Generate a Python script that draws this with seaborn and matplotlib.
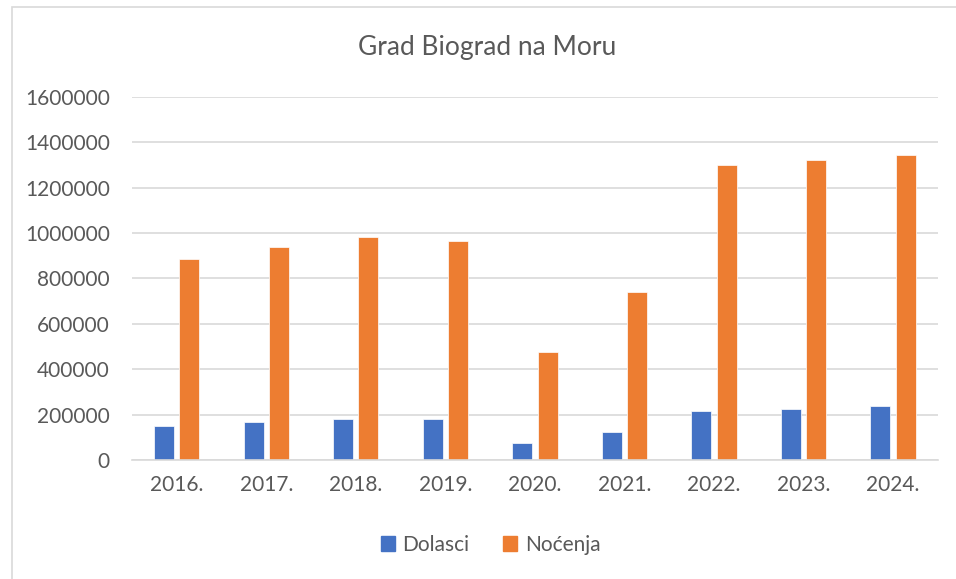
import pandas as pd
import seaborn as sns
import matplotlib.pyplot as plt
from matplotlib.patches import Rectangle

# Podaci sa grafa
godine = ['2016.', '2017.', '2018.', '2019.', '2020.', '2021.', '2022.', '2023.', '2024.']
dolasci = [152000, 166000, 182000, 182000, 73000, 122000, 214000, 227000, 240000]
nocenja = [884000, 941000, 985000, 966000, 474000, 742000, 1300000, 1321000, 1343000]
serije = ['Dolasci', 'Noćenja']
boje = ['#4472C4', '#ED7D31']

datos = pd.DataFrame({
    'godina': godine * 2,
    'vrijednost': dolasci + nocenja,
    'serija': [serije[0]] * len(godine) + [serije[1]] * len(godine),
})

sns.set_style('white')
plt.rcParams['font.family'] = ['Lato', 'DejaVu Sans']
tekst = '#595959'

fig = plt.figure(figsize=(9.56, 5.79), dpi=100)
ax = fig.add_axes([0.138, 0.2055, 0.843, 0.627])

sns.barplot(data=datos, x='godina', y='vrijednost', hue='serija', palette=boje,
            width=0.565, gap=0.21, saturation=1, ax=ax, edgecolor='white', linewidth=0.5)

ax.set_ylim(0, 1600000)
ax.set_yticks(range(0, 1600001, 200000))
ax.set_yticklabels([str(v) for v in range(0, 1600001, 200000)])
ax.grid(axis='y', color='#D9D9D9', linewidth=1.2)
ax.set_axisbelow(True)
for s in ['top', 'right', 'left']:
    ax.spines[s].set_visible(False)
ax.spines['bottom'].set_color('#D9D9D9')
ax.spines['bottom'].set_linewidth(1.2)
ax.tick_params(axis='both', length=0, labelsize=15, colors=tekst)
ax.tick_params(axis='x', pad=11)
ax.tick_params(axis='y', pad=16)
ax.set_xlabel('')
ax.set_ylabel('')

fig.text(0.51, 0.918, 'Grad Biograd na Moru', ha='center', va='center', fontsize=19, color=tekst)

ax.legend_.remove()
handles = [Rectangle((0, 0), 1, 1, color=c) for c in boje]
fig.legend(handles, serije, loc='center', bbox_to_anchor=(0.513, 0.059), ncol=2, frameon=False,
           fontsize=15, labelcolor=tekst, handlelength=0.7, handleheight=0.7, handletextpad=0.35,
           columnspacing=1.6)

# okvir grafikona
fig.patches.append(Rectangle((12 / 956, -0.01), 1.0, 1 - 7 / 579 + 0.01, transform=fig.transFigure,
                             fill=False, edgecolor='#D9D9D9', linewidth=1.2))

fig.savefig('out.png', dpi=100)
